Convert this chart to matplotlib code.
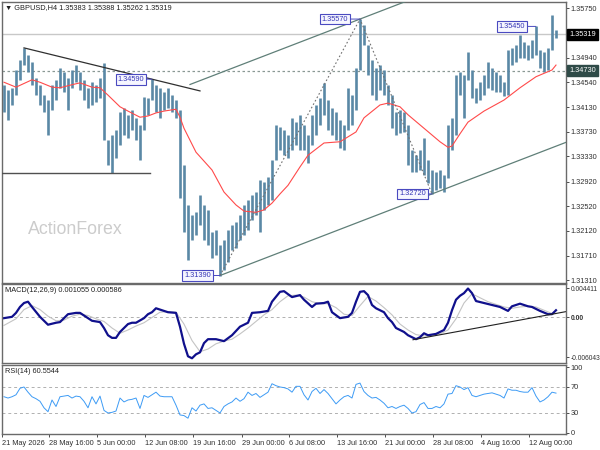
import numpy as np
import matplotlib
matplotlib.use('Agg')
import matplotlib.pyplot as plt
from matplotlib.transforms import blended_transform_factory

plt.rcParams['font.family'] = ['Liberation Sans', 'DejaVu Sans']
plt.rcParams['font.size'] = 5.3

# ---- price bars (H4) ----
highs = [1.3450, 1.3441, 1.3445, 1.3474, 1.3490, 1.3510, 1.3498, 1.3487, 1.3461, 1.3450,
         1.3433, 1.3425, 1.3450, 1.3458, 1.3477, 1.3471, 1.3461, 1.3474, 1.3482, 1.3471,
         1.3458, 1.3445, 1.3454, 1.3450, 1.3461, 1.3485, 1.3360, 1.3368, 1.3376, 1.3405,
         1.3412, 1.3401, 1.3409, 1.3396, 1.3384, 1.3430, 1.3428, 1.3459, 1.3450, 1.3445,
         1.3438, 1.3445, 1.3433, 1.3425, 1.3409, 1.3319, 1.3254, 1.3238, 1.3243, 1.3270,
         1.3254, 1.3246, 1.3210, 1.3213, 1.3189, 1.3197, 1.3213, 1.3221, 1.3226, 1.3238,
         1.3254, 1.3262, 1.3270, 1.3275, 1.3295, 1.3291, 1.3300, 1.3327, 1.3384, 1.3381,
         1.3376, 1.3368, 1.3396, 1.3389, 1.3401, 1.3384, 1.3368, 1.3401, 1.3417, 1.3428,
         1.3453, 1.3425, 1.3412, 1.3405, 1.3392, 1.3384, 1.3445, 1.3433, 1.3477, 1.3557,
         1.3547, 1.3515, 1.3490, 1.3477, 1.3482, 1.3474, 1.3450, 1.3433, 1.3405, 1.3409,
         1.3405, 1.3384, 1.3344, 1.3335, 1.3344, 1.3363, 1.3327, 1.3311, 1.3308, 1.3311,
         1.3303, 1.3384, 1.3396, 1.3466, 1.3471, 1.3466, 1.3503, 1.3474, 1.3445, 1.3454,
         1.3466, 1.3487, 1.3477, 1.3471, 1.3466, 1.3454, 1.3507, 1.3510, 1.3515, 1.3531,
         1.3520, 1.3515, 1.3523, 1.3545, 1.3507, 1.3503, 1.3510, 1.3564, 1.3539]
lows = [1.3405, 1.3392, 1.3417, 1.3433, 1.3458, 1.3482, 1.3471, 1.3450, 1.3433, 1.3417,
        1.3405, 1.3368, 1.3409, 1.3425, 1.3445, 1.3438, 1.3409, 1.3445, 1.3454, 1.3441,
        1.3425, 1.3412, 1.3417, 1.3422, 1.3428, 1.3360, 1.3319, 1.3306, 1.3331, 1.3352,
        1.3368, 1.3363, 1.3376, 1.3360, 1.3327, 1.3376, 1.3401, 1.3425, 1.3405, 1.3396,
        1.3409, 1.3412, 1.3405, 1.3396, 1.3265, 1.3210, 1.3164, 1.3197, 1.3205, 1.3221,
        1.3197, 1.3189, 1.3168, 1.3172, 1.3139, 1.3148, 1.3161, 1.3181, 1.3184, 1.3197,
        1.3205, 1.3213, 1.3229, 1.3238, 1.3210, 1.3246, 1.3254, 1.3262, 1.3327, 1.3344,
        1.3335, 1.3331, 1.3344, 1.3352, 1.3344, 1.3344, 1.3322, 1.3352, 1.3368, 1.3384,
        1.3401, 1.3376, 1.3368, 1.3360, 1.3347, 1.3344, 1.3376, 1.3384, 1.3409, 1.3474,
        1.3515, 1.3466, 1.3433, 1.3425, 1.3441, 1.3433, 1.3417, 1.3379, 1.3368, 1.3371,
        1.3373, 1.3319, 1.3308, 1.3308, 1.3311, 1.3303, 1.3290, 1.3272, 1.3278, 1.3282,
        1.3275, 1.3298, 1.3344, 1.3368, 1.3433, 1.3396, 1.3458, 1.3428, 1.3420, 1.3425,
        1.3433, 1.3445, 1.3441, 1.3438, 1.3438, 1.3432, 1.3433, 1.3482, 1.3487, 1.3494,
        1.3494, 1.3490, 1.3494, 1.3498, 1.3477, 1.3471, 1.3474, 1.3507, 1.3526]

# moving average (red), sampled at bar indices
ma_idx = [0, 3, 7, 9, 12, 14, 17, 19, 22, 24, 26, 29, 31, 34, 36, 38, 40, 43, 44, 45,
          48, 52, 55, 58, 60, 63, 65, 67, 69, 71, 74, 76, 80, 84, 88, 90, 94, 96, 99, 101,
          105, 109, 111, 112, 114, 116, 120, 125, 129, 133, 137, 138]
ma_val = [1.3454, 1.3446, 1.3458, 1.3454, 1.3446, 1.3445, 1.3450, 1.3453, 1.3446, 1.3445,
          1.3433, 1.3414, 1.3407, 1.3397, 1.3399, 1.3404, 1.3407, 1.3410, 1.3397, 1.3379,
          1.3340, 1.3311, 1.3275, 1.3254, 1.3244, 1.3242, 1.3246, 1.3257, 1.3272, 1.3286,
          1.3316, 1.3335, 1.3355, 1.3357, 1.3373, 1.3396, 1.3417, 1.3420, 1.3414, 1.3401,
          1.3379, 1.3357, 1.3348, 1.3350, 1.3370, 1.3389, 1.3407, 1.3425, 1.3445, 1.3463,
          1.3474, 1.3482]

# MACD(12,26,9)
macd_idx = [0, 2, 3, 4, 5, 6, 7, 9, 11, 13, 14, 16, 18, 19, 21, 22, 24, 25, 26, 27,
            28, 29, 30, 31, 32, 33, 35, 36, 37, 38, 40, 41, 43, 44, 45, 46, 47, 48, 49, 50,
            51, 52, 53, 55, 57, 59, 61, 62, 64, 66, 67, 69, 70, 72, 74, 75, 77, 78, 80, 81,
            82, 84, 86, 87, 88, 89, 90, 91, 92, 93, 95, 96, 97, 98, 100, 101, 103, 104, 105, 106,
            108, 110, 111, 112, 113, 114, 115, 116, 117, 118, 120, 122, 124, 126, 127, 129, 131, 132, 134, 136,
            137, 138]
macd_val = [-0.0001, 0.0001, 0.0007, 0.0016, 0.0022, 0.0024, 0.0016, 0.0001, -0.0011, -0.0008,
            -0.0007, 0.0005, 0.0007, 0.0007, -0.0001, -0.0005, -0.0007, -0.0016, -0.0027, -0.0031,
            -0.0031, -0.0022, -0.0016, -0.0010, -0.0008, -0.0008, -0.0001, 0.0005, 0.0008, 0.0014,
            0.0010, 0.0008, 0.0007, -0.0014, -0.0040, -0.0059, -0.0062, -0.0056, -0.0053, -0.0039,
            -0.0033, -0.0033, -0.0033, -0.0036, -0.0027, -0.0014, -0.0008, 0.0007, 0.0008, 0.0010,
            0.0024, 0.0039, 0.0040, 0.0031, 0.0034, 0.0027, 0.0016, 0.0021, 0.0022, 0.0024,
            0.0008, -0.0001, 0.0001, 0.0007, 0.0024, 0.0039, 0.0040, 0.0034, 0.0019, 0.0014,
            0.0008, -0.0001, -0.0007, -0.0016, -0.0022, -0.0027, -0.0033, -0.0030, -0.0024, -0.0027,
            -0.0025, -0.0019, -0.0008, 0.0011, 0.0027, 0.0033, 0.0037, 0.0044, 0.0037, 0.0025,
            0.0022, 0.0019, 0.0016, 0.0010, 0.0017, 0.0021, 0.0017, 0.0016, 0.0010, 0.0005,
            0.0005, 0.0011]
sig_idx = [0, 3, 5, 7, 9, 11, 13, 15, 17, 19, 21, 23, 25, 27, 29, 31, 33, 35, 37, 39,
           41, 43, 45, 47, 49, 51, 53, 55, 57, 59, 61, 63, 65, 67, 69, 71, 73, 75, 77, 79,
           81, 83, 85, 87, 89, 91, 93, 95, 97, 99, 101, 103, 105, 107, 109, 111, 113, 115, 117, 119,
           121, 123, 125, 127, 129, 131, 133, 135, 137, 138]
sig_val = [-0.0012, -0.0002, 0.0012, 0.0018, 0.0012, 0.0002, -0.0005, -0.0004, 0.0002, 0.0005,
           0.0003, -0.0002, -0.0006, -0.0016, -0.0024, -0.0019, -0.0013, -0.0008, 0.0000, 0.0008,
           0.0009, 0.0008, -0.0010, -0.0035, -0.0052, -0.0048, -0.0040, -0.0036, -0.0033, -0.0025,
           -0.0016, -0.0006, 0.0004, 0.0012, 0.0024, 0.0033, 0.0034, 0.0031, 0.0024, 0.0021,
           0.0021, 0.0015, 0.0005, 0.0003, 0.0018, 0.0032, 0.0025, 0.0015, 0.0004, -0.0010,
           -0.0019, -0.0026, -0.0028, -0.0027, -0.0025, -0.0019, -0.0002, 0.0022, 0.0036, 0.0030,
           0.0024, 0.0020, 0.0016, 0.0014, 0.0016, 0.0017, 0.0016, 0.0011, 0.0006, 0.0006]

# RSI(14), one value per bar
rsi_val = [55, 53, 55, 58, 68, 70, 62, 55, 52, 48,
           38, 32, 50, 40, 55, 56, 57, 53, 56, 55,
           48, 38, 55, 44, 56, 34, 30, 31, 33, 53,
           47, 50, 51, 53, 37, 57, 54, 58, 62, 56,
           55, 55, 55, 42, 27, 26, 22, 38, 33, 42,
           44, 37, 38, 34, 30, 40, 44, 47, 53, 48,
           52, 62, 57, 60, 54, 58, 62, 75, 72, 70,
           69, 67, 62, 71, 71, 58, 50, 63, 68, 60,
           66, 60, 52, 44, 50, 55, 57, 53, 74, 76,
           63, 57, 53, 54, 50, 45, 38, 40, 37, 40,
           42, 37, 30, 32, 43, 46, 37, 37, 40, 38,
           44, 59, 60, 72, 70, 66, 69, 57, 55, 57,
           59, 60, 61, 59, 57, 53, 67, 65, 65, 63,
           62, 62, 69, 56, 47, 50, 55, 62, 60.5544]

date_pos = [-0.5, 11.25, 23.25, 35.25, 47.25, 59.5, 71.25, 83.25, 95.25, 107.25, 119.25, 131.25]
date_labels = ['21 May 2026', '28 May 16:00', '5 Jun 00:00', '12 Jun 08:00', '19 Jun 16:00',
               '29 Jun 00:00', '6 Jul 08:00', '13 Jul 16:00', '21 Jul 00:00', '28 Jul 08:00',
               '4 Aug 16:00', '12 Aug 00:00']
price_ticks = [1.35750, 1.34940, 1.34540, 1.34130, 1.33730, 1.33330, 1.32920,
               1.32520, 1.32120, 1.31710, 1.31310]
ohlc_last = [1.35383, 1.35388, 1.35262, 1.35319]
level = 1.34730
macd_last = [0.001055, 0.000586]

W, H = 600, 450


def rect(x0, y0, x1, y1):
    return [x0 / W, 1 - y1 / H, (x1 - x0) / W, (y1 - y0) / H]


fig = plt.figure(figsize=(6, 4.5), dpi=100)
ax = fig.add_axes(rect(2, 2, 566, 283))
ax_m = fig.add_axes(rect(2, 284, 566, 363), sharex=ax)
ax_r = fig.add_axes(rect(2, 365, 566, 434), sharex=ax)

for a in (ax, ax_m, ax_r):
    for s in a.spines.values():
        s.set_color('#6a6a6a')
        s.set_linewidth(1)
    a.yaxis.tick_right()
    a.tick_params(axis='y', direction='out', length=2.5, width=0.6, pad=1.0,
                  colors='#303030', labelsize=5.3)
    a.tick_params(axis='x', direction='out', length=2.5, width=0.6, pad=1.5,
                  colors='#303030', labelsize=5.3)

ax.tick_params(axis='x', bottom=False, labelbottom=False)
ax_m.tick_params(axis='x', bottom=False, labelbottom=False)

# ---- main price panel ----
n = len(highs)
idx = np.arange(n)
ax.set_xlim(-0.5, 140.5)
ax.set_ylim(1.31268, 1.35848)

ax.axhline(ohlc_last[3], color='#c8c8c8', lw=1, zorder=1)
ax.axhline(level, color='#8a9894', lw=0.9, ls=(0, (2, 2)), zorder=1)

ax.vlines(idx, lows, highs, color='#5a88a5', lw=1.9, zorder=3)
ax.plot(ma_idx, ma_val, color='#ff4a4a', lw=0.8, zorder=4)

# descending trendline across the May/June highs
i1, i2 = 5, 37
sl = (highs[i2] - highs[i1]) / (i2 - i1)
xs = np.array([i1, 49])
ax.plot(xs, highs[i1] + sl * (xs - i1), color='#303030', lw=0.9, zorder=5)

# horizontal support under the first range
ax.plot([-0.5, 36.5], [min(lows[:38])] * 2, color='#505050', lw=1, zorder=5)

# rising channel
lo1, lo2 = 54, 107
cs = (lows[lo2] - lows[lo1]) / (lo2 - lo1)
xs = np.array([lo1, 140.5])
ax.plot(xs, lows[lo1] + cs * (xs - lo1), color='#5f7f78', lw=0.9, zorder=5)
xs = np.array([46.5, 112])
ax.plot(xs, highs[89] + cs * (xs - 89), color='#5f7f78', lw=0.9, zorder=5)

# zigzag between swing points
ax.plot([54, 89, 107], [lows[54], highs[89], lows[107]], color='#707070',
        lw=0.8, ls=(0, (1.5, 2)), zorder=5)

marks = [(37, highs[37], -8), (89, highs[89], -12), (54, lows[54], -9),
         (107, lows[107], -6), (133, highs[133], -11)]
for i, p, off in marks:
    ax.annotate('%.5f' % p, xy=(i, p), xytext=(off, 0), textcoords='offset pixels',
                ha='right', va='center', color='#3535b5', fontsize=5.3, zorder=6,
                bbox=dict(boxstyle='square,pad=0.25', fc='#f6f6ff', ec='#4a4ac0', lw=0.8),
                arrowprops=dict(arrowstyle='-', color='#4a4ac0', lw=0.7,
                                shrinkA=0, shrinkB=0))

ax.set_yticks(price_ticks)
ax.set_yticklabels(['%.5f' % v for v in price_ticks])

tr = blended_transform_factory(ax.transAxes, ax.transData)
ax.text(1.0055, ohlc_last[3], '%.5f' % ohlc_last[3], transform=tr, ha='left', va='center',
        color='white', fontsize=5.3, zorder=7,
        bbox=dict(boxstyle='square,pad=0.3', fc='black', ec='black'))
ax.text(1.0055, level, '%.5f' % level, transform=tr, ha='left', va='center',
        color='white', fontsize=5.3, zorder=7,
        bbox=dict(boxstyle='square,pad=0.3', fc='#2f4b48', ec='#2f4b48'))

ax.text(0.0053, 0.979, '\u25bc GBPUSD,H4 ' + ' '.join('%.5f' % v for v in ohlc_last),
        transform=ax.transAxes, ha='left', va='center', color='#202020', fontsize=5.3)

fig.text(75 / W, 1 - 230 / H, 'ActionForex', ha='center', va='center',
         fontsize=12.8, color='#cccccc')

# ---- MACD panel ----
ax_m.set_ylim(-0.00692, 0.00509)
ax_m.axhline(0, color='#b0b0b0', lw=0.7, ls=(0, (3, 3)))
ax_m.plot(sig_idx, sig_val, color='#c4c4c4', lw=0.8)
ax_m.plot(macd_idx, macd_val, color='#10108c', lw=1.6)
t1, t2 = 103, 137
ms = (macd_val[macd_idx.index(t2)] - macd_val[macd_idx.index(t1)]) / (t2 - t1)
xs = np.array([102.25, 140.5])
ax_m.plot(xs, macd_val[macd_idx.index(t1)] + ms * (xs - t1), color='#202020', lw=0.8)
ax_m.set_yticks([0.004411, 0.0, -0.006043])
ax_m.set_yticklabels(['0.004411', '0.00', '-0.006043'])
ax_m.tick_params(axis='y', labelsize=4.8, pad=0.6)
ax_m.get_yticklabels()[1].set_fontweight('bold')
ax_m.text(0.0053, 0.924, 'MACD(12,26,9) %.6f %.6f' % tuple(macd_last),
          transform=ax_m.transAxes, ha='left', va='center', color='#202020', fontsize=5.3)

# ---- RSI panel ----
ax_r.set_ylim(-2.3, 103.8)
for lv in (70, 30):
    ax_r.axhline(lv, color='#b0b0b0', lw=0.7, ls=(0, (3, 3)))
ax_r.plot(idx, rsi_val, color='#3d9bf5', lw=0.7)
ax_r.set_yticks([100, 70, 30, 0])
ax_r.set_yticklabels(['100', '70', '30', '0'])
ax_r.text(0.0053, 0.899, 'RSI(14) %.4f' % rsi_val[-1], transform=ax_r.transAxes,
          ha='left', va='center', color='#202020', fontsize=5.3)

ax_r.set_xticks(date_pos)
ax_r.set_xticklabels(date_labels)
plt.setp(ax_r.get_xticklabels(), ha='left')

fig.savefig('out.png', dpi=100)
